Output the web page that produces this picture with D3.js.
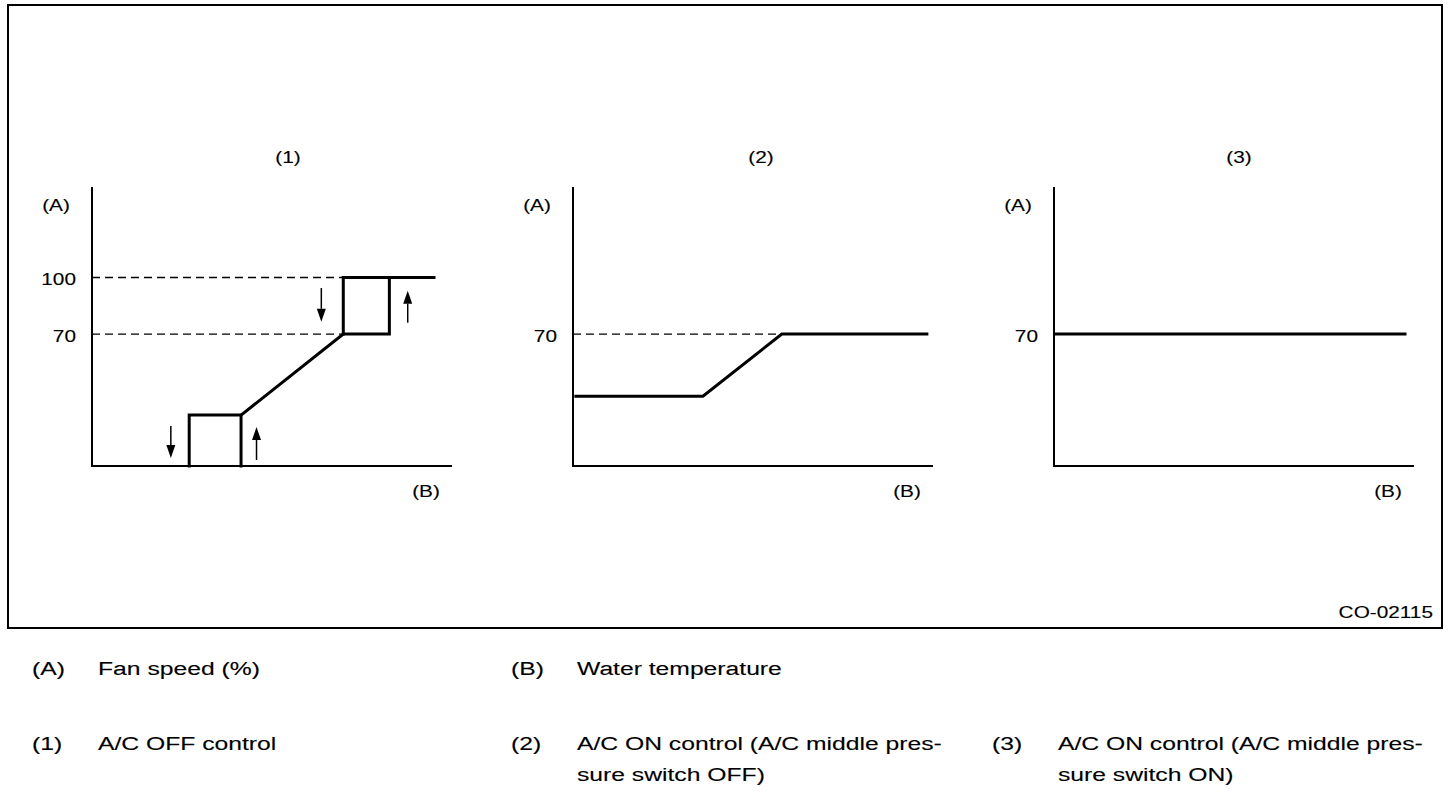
<!DOCTYPE html>
<html>
<head>
<meta charset="utf-8">
<script src="https://cdn.jsdelivr.net/npm/d3@7"></script>
<style>
  html, body { margin: 0; padding: 0; background: #fff; }
  svg { display: block; }
  text { font-family: "Liberation Sans", Arial, Helvetica, sans-serif; fill: #000; stroke: #000; stroke-width: 0.12; }
</style>
</head>
<body>
<svg id="chart" width="1456" height="792"></svg>
<script>
// ---- data ----
const PANEL_TITLES = ["(1)", "(2)", "(3)"];
const Y_TICKS = [[100, 70], [70], [70]];
const Y_MAX = 148;   // top of the (A) axis, in fan speed %
const X_MAX = 100;   // water temperature, arbitrary units

// polylines of [water temperature, fan speed]
const SERIES_1 = [
    [[27, 0], [27, 27], [41.4, 27], [41.4, 0]],
    [[41.4, 27], [69.8, 70], [82.6, 70], [82.6, 100]],
    [[69.8, 70], [69.8, 100], [95, 100]]
];
const SERIES_2 = [
    [[0.8, 37], [36.1, 37], [58, 70], [98.3, 70]]
];
const SERIES_3 = [
    [[0.3, 70], [97.5, 70]]
];
const SERIES = [SERIES_1, SERIES_2, SERIES_3];

// dashed guides: [fan speed, temperature where it stops]
const GUIDES = [[[100, 69.8], [70, 69.8]], [[70, 58]], []];

// hysteresis arrows in panel 1: temperature, from fan speed, to fan speed
const ARROWS_1 = [
    { x: 21.9, from: 21.2, to: 4.2 },
    { x: 45.7, from: 3.2, to: 20.7 },
    { x: 63.7, from: 94.4, to: 76.5 },
    { x: 87.7, from: 76, to: 93 }
];

const LEGEND_KEYS = ["(A)", "(B)", "(1)", "(2)", "(3)"];
const LEGEND_TEXT = [
    ["Fan speed (%)"],
    ["Water temperature"],
    ["A/C OFF control"],
    ["A/C ON control (A/C middle pres-", "sure switch OFF)"],
    ["A/C ON control (A/C middle pres-", "sure switch ON)"]
];
const FIGURE_ID = "CO-02115";

// ---- layout ----
const PANEL_LEFT = [92, 573, 1054];
const TITLE_X = [288, 761, 1239];
const PLOT_WIDTH = 360;
const PLOT_BOTTOM = 466;
const PLOT_TOP = 187;
const TEXT_STRETCH = 1.3;
const LEGEND_COLS = [32, 511, 992];
const LEGEND_ROWS = [668, 743];
const LEGEND_TEXT_DX = 66;
const LEGEND_LINE_HEIGHT = 31;

const svg = d3.select("#chart");

// the reference lettering is horizontally stretched
function label(g, x, y, str, size, anchor) {
    g.append("text")
        .attr("transform", `translate(${x},${y}) scale(${TEXT_STRETCH},1)`)
        .attr("dy", "0.35em")
        .attr("font-size", size)
        .attr("text-anchor", anchor || "start")
        .text(str);
}

// frame
svg.append("rect")
    .attr("x", 8).attr("y", 5)
    .attr("width", 1434).attr("height", 623)
    .attr("fill", "none")
    .attr("stroke", "#000")
    .attr("stroke-width", 2);

label(svg, 1433, 612, FIGURE_ID, 16, "end");

const y = d3.scaleLinear().domain([0, Y_MAX]).range([PLOT_BOTTOM, PLOT_TOP]);

PANEL_TITLES.forEach((title, i) => {
    const x = d3.scaleLinear().domain([0, X_MAX]).range([PANEL_LEFT[i], PANEL_LEFT[i] + PLOT_WIDTH]);
    const g = svg.append("g");

    // axes
    g.append("path")
        .attr("d", d3.line()([[x(0), y(Y_MAX)], [x(0), y(0)], [x(X_MAX), y(0)]]))
        .attr("fill", "none")
        .attr("stroke", "#000")
        .attr("stroke-width", 2);

    // dashed guides
    g.selectAll(".guide")
        .data(GUIDES[i])
        .enter()
        .append("line")
        .attr("class", "guide")
        .attr("x1", x(0)).attr("x2", d => x(d[1]))
        .attr("y1", d => y(d[0])).attr("y2", d => y(d[0]))
        .attr("stroke", "#000")
        .attr("stroke-width", 1.3)
        .attr("stroke-dasharray", "8,5");

    // curve
    const line = d3.line().x(d => x(d[0])).y(d => y(d[1]));
    g.selectAll(".curve")
        .data(SERIES[i])
        .enter()
        .append("path")
        .attr("class", "curve")
        .attr("d", line)
        .attr("fill", "none")
        .attr("stroke", "#000")
        .attr("stroke-width", 3)
        .attr("stroke-linejoin", "miter")
        .attr("stroke-linecap", "square");

    // labels
    label(g, TITLE_X[i], 157, title, 16, "middle");
    label(g, x(0) - 36, 205, "(A)", 16, "middle");
    label(g, x(X_MAX) - 26, 491, "(B)", 16, "middle");
    Y_TICKS[i].forEach(t => label(g, x(0) - 16, y(t) + 2, String(t), 16, "end"));

    if (i === 0) {
        ARROWS_1.forEach(a => {
            const dir = a.to < a.from ? 1 : -1;   // 1 = pointing down in pixels
            const tipY = y(a.to);
            const baseY = tipY - dir * 13;
            g.append("line")
                .attr("x1", x(a.x)).attr("x2", x(a.x))
                .attr("y1", y(a.from)).attr("y2", baseY)
                .attr("stroke", "#000")
                .attr("stroke-width", 1.5);
            g.append("path")
                .attr("d", d3.line()([[x(a.x) - 4.5, baseY], [x(a.x) + 4.5, baseY], [x(a.x), tipY]]) + "Z")
                .attr("fill", "#000");
        });
    }
});

// legend below the frame
LEGEND_KEYS.forEach((key, i) => {
    const col = i < 2 ? i : i - 2;
    const row = i < 2 ? 0 : 1;
    const lx = LEGEND_COLS[col];
    const ly = LEGEND_ROWS[row];
    label(svg, lx, ly, key, 19);
    LEGEND_TEXT[i].forEach((t, j) => label(svg, lx + LEGEND_TEXT_DX, ly + j * LEGEND_LINE_HEIGHT, t, 19));
});
</script>
</body>
</html>
